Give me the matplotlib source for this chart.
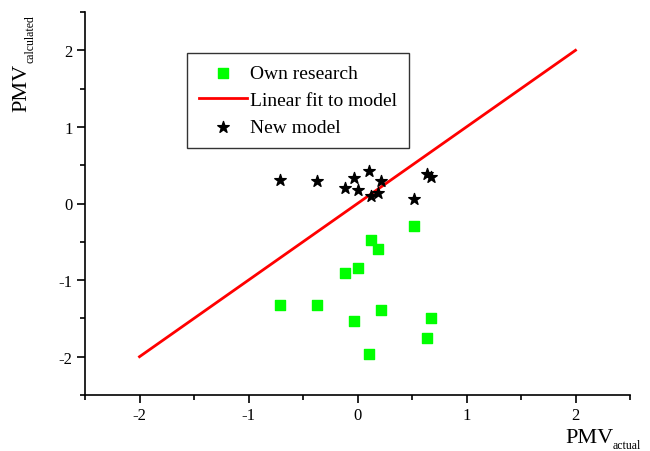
import matplotlib.pyplot as plt
import numpy as np

plt.rcParams['font.family'] = ['Liberation Serif', 'DejaVu Serif']
plt.rcParams['axes.unicode_minus'] = False

# PMV actual vs calculated
actual = [-0.71, -0.37, -0.115, -0.034, 0.0, 0.107, 0.126, 0.19, 0.22, 0.52, 0.64, 0.67]
new_model = [0.31, 0.30, 0.20, 0.33, 0.18, 0.42, 0.10, 0.14, 0.30, 0.06, 0.38, 0.34]

own_x = [-0.71, -0.37, -0.115, 0.0, -0.034, 0.126, 0.19, 0.22, 0.107, 0.52, 0.64, 0.67]
own_y = [-1.32, -1.32, -0.91, -0.84, -1.54, -0.48, -0.60, -1.39, -1.96, -0.29, -1.75, -1.50]

fit_x = [-2, 2]
fit_y = [-2, 2]

fig = plt.figure(figsize=(6.5, 4.52), dpi=100)
ax = fig.add_axes([85/650, 1 - 396/452, 545/650, 383/452])

ax.scatter(own_x, own_y, marker='s', s=50, color='#00ff00', label='Own research', zorder=3)
ax.plot(fit_x, fit_y, color='red', lw=2, label='Linear fit to model', zorder=2)
ax.scatter(actual, new_model, marker='*', s=75, color='black', label='New model', zorder=4)

ax.set_xlim(-2.5, 2.5)
ax.set_ylim(-2.5, 2.5)
ax.set_xticks([-2, -1, 0, 1, 2])
ax.set_yticks([-2, -1, 0, 1, 2])
ax.set_xticks(np.arange(-2.5, 2.6, 0.5), minor=True)
ax.set_yticks(np.arange(-2.5, 2.6, 0.5), minor=True)
ax.tick_params(which='major', direction='out', length=6, width=1.2, labelsize=12, pad=3)
ax.tick_params(which='minor', direction='out', length=3.5, width=1.2)
for s in ['top', 'right']:
    ax.spines[s].set_visible(False)
for s in ['left', 'bottom']:
    ax.spines[s].set_linewidth(1.2)

# axis labels with small subscripts
fig.text(22/650, 1 - 112/452, 'PMV', rotation=90, ha='center', va='bottom', fontsize=16)
fig.text(30/650, 1 - 63/452, 'calculated', rotation=90, ha='center', va='bottom', fontsize=8.5)
fig.text(565/650, 1 - 443/452, 'PMV', ha='left', va='baseline', fontsize=16)
fig.text(613/650, 1 - 449/452, 'actual', ha='left', va='baseline', fontsize=8.5)

leg = ax.legend(loc='upper left', bbox_to_anchor=(102/545, 1 - 41/383), fontsize=14,
                frameon=True, fancybox=False, edgecolor='black', handlelength=2.5,
                handletextpad=0.15, borderpad=0.6, labelspacing=0.48, scatterpoints=1,
                borderaxespad=0)
leg.get_frame().set_linewidth(1.0)

fig.savefig('out.png', dpi=100)
